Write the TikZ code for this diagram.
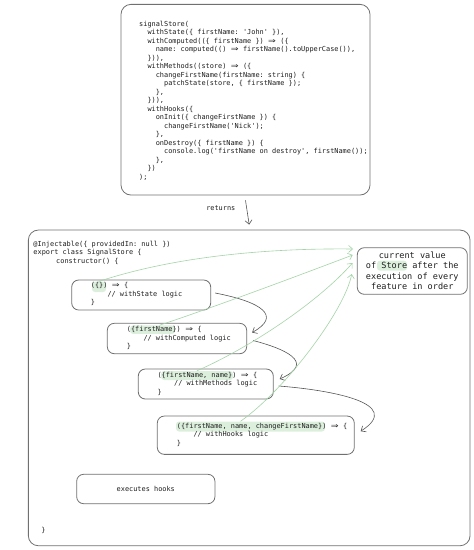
\documentclass[tikz,border=0pt]{standalone}
\usepackage{fontspec}
\usepackage{graphicx}
\setmonofont{DejaVu Sans Mono}
\newfontfamily\arrfont{DejaVu Sans}
\usetikzlibrary{arrows.meta}
\definecolor{ink}{HTML}{1E1E1E}
\definecolor{edge}{HTML}{707070}
\definecolor{grn}{HTML}{A3D3A6}
\definecolor{hil}{HTML}{DCEFDC}
\definecolor{darr}{HTML}{555555}
\newcommand\To{\makebox[1.204em]{\scalebox{1.35}[1.05]{\arrfont ⇒}}}
\newcommand\iA{\hspace*{1.204em}}
\newcommand\iB{\hspace*{2.408em}}
\newcommand\iC{\hspace*{3.612em}}
\begin{document}
\begin{tikzpicture}[x=1pt,y=-1pt,
  box/.style={draw=edge, line width=0.8pt, rounded corners=7pt, inner sep=0pt},
  code/.style={anchor=north west, inner sep=0pt, align=left, text=ink, font=\fontsize{6.9}{8.5}\selectfont\ttfamily},
  hl/.style={fill=hil, rounded corners=3pt, inner sep=0pt},
  garrow/.style={draw=grn, line width=0.6pt, -{Straight Barb[length=4pt,width=7pt]}},
  darrow/.style={draw=darr, line width=0.6pt, -{Straight Barb[length=4pt,width=7pt]}}]
\useasboundingbox (0,0) rectangle (474,550);

% highlights
\node[hl, minimum width=14pt, minimum height=10.5pt] (h1) at (99,286.8) {};
\node[hl, minimum width=45pt, minimum height=8.5pt] (h2) at (152.5,329.7) {};
\node[hl, minimum width=72pt, minimum height=9pt] (h3) at (197,375.5) {};
\node[hl, minimum width=149pt, minimum height=10pt] (h4) at (250.5,426.5) {};
\node[hl, minimum width=30pt, minimum height=10pt] (hs) at (392,265.7) {};

% boxes
\node[box, rounded corners=10pt, minimum width=249pt, minimum height=190.7pt] (top) at (245.5,99.7) {};
\node[box, rounded corners=10pt, minimum width=441.7pt, minimum height=315.7pt] (big) at (249.2,387.9) {};
\node[box, minimum width=139pt, minimum height=30pt] (b1) at (141.2,295) {};
\node[box, minimum width=139.4pt, minimum height=30.4pt] (b2) at (177,338.5) {};
\node[box, minimum width=135pt, minimum height=30pt] (b3) at (205.8,384) {};
\node[box, minimum width=197pt, minimum height=38.3pt] (b4) at (255.8,435.2) {};
\node[box, minimum width=138.3pt, minimum height=29.4pt] (hooks) at (145.8,489) {};
\node[box, minimum width=110pt, minimum height=46.6pt] (cur) at (412.3,271) {};

% texts
\node[code] (topcode) at (139,20.8) {signalStore(\\
\iA withState(\{ firstName: 'John' \}),\\
\iA withComputed((\{ firstName \}) \To{} (\{\\
\iB name: computed(() \To{} firstName().toUpperCase()),\\
\iA \})),\\
\iA withMethods((store) \To{} (\{\\
\iB changeFirstName(firstName: string) \{\\
\iC patchState(store, \{ firstName \});\\
\iB \},\\
\iA \})),\\
\iA withHooks(\{\\
\iB onInit(\{ changeFirstName \}) \{\\
\iC changeFirstName('Nick');\\
\iB \},\\
\iB onDestroy(\{ firstName \}) \{\\
\iC console.log('firstName on destroy', firstName());\\
\iB \},\\
\iA \})\\
);};
\node[code, anchor=center] (ret) at (220.8,208.3) {returns};
\node[code] (cls) at (33.3,240.8) {@Injectable(\{ providedIn: null \})\\
export class SignalStore \{\\
\hspace*{22.7pt}constructor() \{};
\node[code] (t1) at (90.7,282.3) {(\{\}) \To{} \{\\ \iB // withState logic\\ \}};
\node[code] (t2) at (126.7,326.3) {(\{firstName\}) \To{} \{\\ \iB // withComputed logic\\ \}};
\node[code] (t3) at (157.3,371.6) {(\{firstName, name\}) \To{} \{\\ \iB // withMethods logic\\ \}};
\node[code] (t4) at (176.7,423) {(\{firstName, name, changeFirstName\}) \To{} \{\\ \iB // withHooks logic\\ \}};
\node[code, anchor=center] (th) at (hooks.center) {executes hooks};
\node[code, anchor=west] (close) at (41.3,530.3) {\}};
\node[code, anchor=center, align=center, font=\fontsize{8.55}{10.5}\selectfont\ttfamily] (curt) at (cur.center) {current value\\ of Store after the\\ execution of every\\ feature in order};

% returns arrow
\draw[darrow] ([yshift=-5pt]top.south) -- ([yshift=5pt]big.north);

% dark flow arrows
\draw[darrow] ([shift={(4,-2)}]b1.east) .. controls (262,302) and (282,316) .. ([shift={(5,-6)}]b2.east);
\draw[darrow] ([shift={(6,2)}]b2.east) .. controls (282,348) and (318,362) .. ([shift={(6,-5)}]b3.east);
\draw[darrow] ([shift={(5,2)}]b3.east) .. controls (330,390) and (405,403) .. ([shift={(6,-4)}]b4.east);

% green arrows
\coordinate (e1) at (353,249);
\coordinate (e2) at (352.7,255);
\coordinate (e3) at (352.5,263);
\coordinate (e4) at (351.7,274);
\draw[garrow] (h1.north) .. controls (170,258) and (260,248) .. (e1);
\draw[garrow] ([xshift=7pt]h2.north) .. controls (220,305) and (300,275) .. (e2);
\draw[garrow] (h3.north) .. controls (255,345) and (320,300) .. (e3);
\draw[garrow] ([xshift=-10pt]h4.north) .. controls (285,390) and (345,310) .. (e4);
\end{tikzpicture}
\end{document}
